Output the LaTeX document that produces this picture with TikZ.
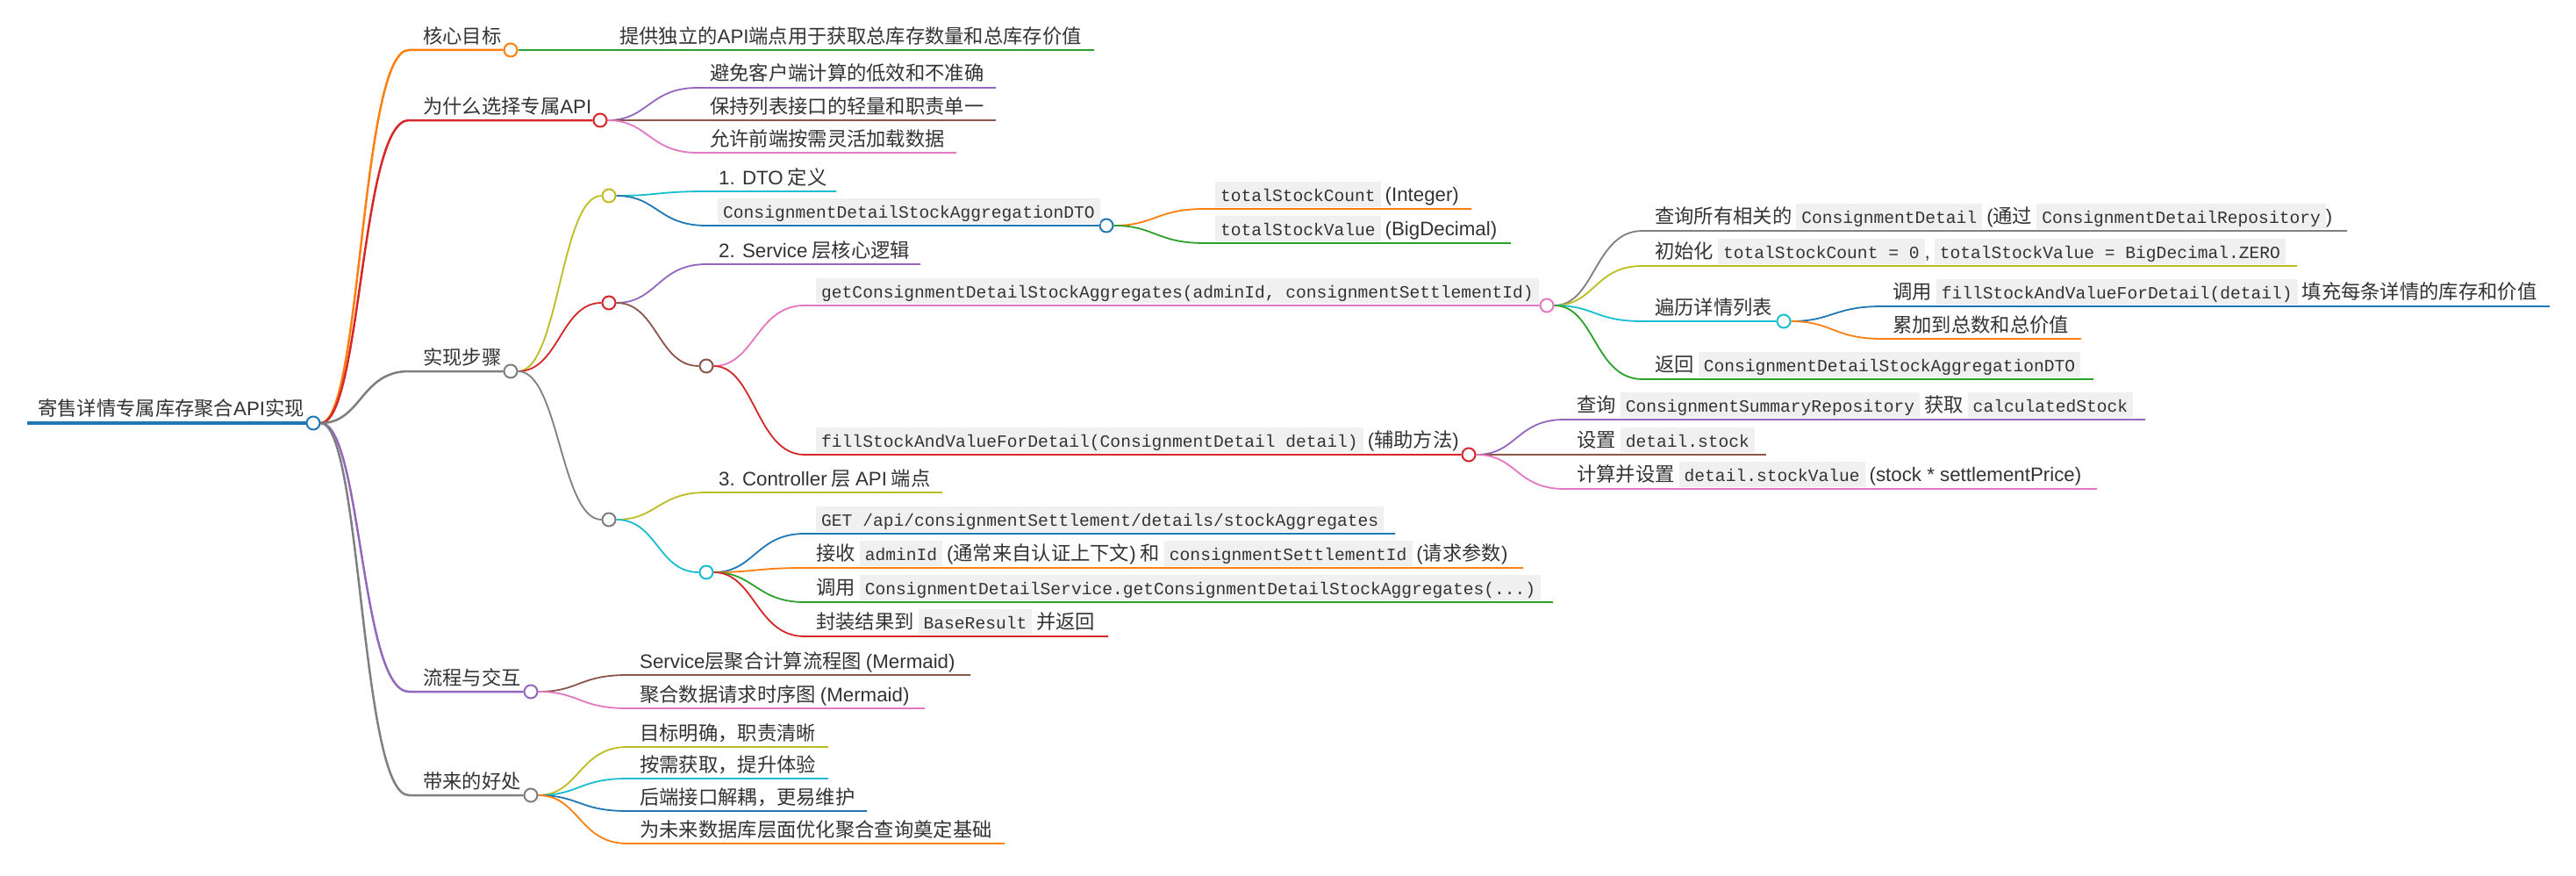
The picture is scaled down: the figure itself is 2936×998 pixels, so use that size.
\documentclass[tikz,border=0pt]{standalone}
\usepackage{fontspec}
\setmainfont{Noto Sans CJK SC}
\newfontfamily\enfont{Liberation Sans}
\newfontfamily\monofont{Liberation Mono}
\definecolor{cBlue}{HTML}{1F77B4}
\definecolor{cOrange}{HTML}{FF7F0E}
\definecolor{cGreen}{HTML}{2CA02C}
\definecolor{cRed}{HTML}{D62728}
\definecolor{cPurple}{HTML}{9467BD}
\definecolor{cBrown}{HTML}{8C564B}
\definecolor{cPink}{HTML}{E377C2}
\definecolor{cGray}{HTML}{7F7F7F}
\definecolor{cOlive}{HTML}{BCBD22}
\definecolor{cCyan}{HTML}{17BECF}
\definecolor{codebg}{HTML}{F0F0F0}
\definecolor{txt}{HTML}{333333}
\newcommand\en[1]{{\enfont #1}}
\newcommand\code[1]{{\setlength{\fboxsep}{0pt}\colorbox{codebg}{\rule[-7pt]{0pt}{29pt}\hspace{6pt}{\monofont\fontsize{19.6}{22}\selectfont #1}\hspace{6pt}}}}
\pgfdeclarelayer{bg}
\pgfsetlayers{bg,main}
\tikzset{
  lbl/.style={anchor=base west, inner sep=0pt, text=txt, font=\fontsize{22.3}{26}\selectfont},
  bub/.style={circle, draw=#1, fill=white, line width=2pt, minimum size=15pt, inner sep=0pt},
  w0/.style={line width=3.5pt},
  w1/.style={line width=2.5pt},
  w2/.style={line width=1.8pt},
  link/.style={to path={.. controls +(55,0) and +(-55,0) .. (\tikztotarget)}}
}
\begin{document}
\begin{tikzpicture}[x=1pt,y=-1pt]
\useasboundingbox (0,0) rectangle (2936,998);

% root
\coordinate (sR) at (31,482);
\node[bub=cBlue] (cR) at (357,482) {};
\node[lbl] (tR) at (43,473) {寄售详情专属库存聚合\en{API}实现};

% level 1
\coordinate (sA) at (466,57);  \node[bub=cOrange] (cA) at (582,57) {};
\node[lbl] (tA) at (482,49) {核心目标};
\coordinate (sB) at (466,137); \node[bub=cRed] (cB) at (684,137) {};
\node[lbl] (tB) at (482,129) {为什么选择专属\en{API}};
\coordinate (sC) at (466,423); \node[bub=cGray] (cC) at (582,423) {};
\node[lbl] (tC) at (482,415) {实现步骤};
\coordinate (sD) at (466,788); \node[bub=cPurple] (cD) at (605,788) {};
\node[lbl] (tD) at (482,780) {流程与交互};
\coordinate (sE) at (466,906); \node[bub=cGray] (cE) at (605,906) {};
\node[lbl] (tE) at (482,898) {带来的好处};

% A children
\coordinate (sA1) at (694,57); \coordinate (eA1) at (1247,57);
\node[lbl] (tA1) at (706,49) {提供独立的\en{API}端点用于获取总库存数量和总库存价值};

% B children
\coordinate (sB1) at (795,100); \coordinate (eB1) at (1135,100);
\node[lbl] (tB1) at (809,92) {避免客户端计算的低效和不准确};
\coordinate (sB2) at (795,137); \coordinate (eB2) at (1135,137);
\node[lbl] (tB2) at (809,129) {保持列表接口的轻量和职责单一};
\coordinate (sB3) at (795,174); \coordinate (eB3) at (1090,174);
\node[lbl] (tB3) at (809,166) {允许前端按需灵活加载数据};

% C children
\node[bub=cOlive] (cC1) at (694,223) {};
\coordinate (sC11) at (805,218); \coordinate (eC11) at (953,218);
\node[lbl] (tC11) at (819,210) {\en{1. DTO} 定义};
\coordinate (sC12) at (805,257); \node[bub=cBlue] (cC12) at (1261,257) {};
\node[lbl] (tC12) at (818,248) {\code{ConsignmentDetailStockAggregationDTO}};
\coordinate (sC121) at (1373,238); \coordinate (eC121) at (1677,238);
\node[lbl] (tC121) at (1385,229) {\code{totalStockCount} \en{(Integer)}};
\coordinate (sC122) at (1373,277); \coordinate (eC122) at (1722,277);
\node[lbl] (tC122) at (1385,268) {\code{totalStockValue} \en{(BigDecimal)}};

\node[bub=cRed] (cC2) at (694,345) {};
\coordinate (sC21) at (805,301); \coordinate (eC21) at (1049,301);
\node[lbl] (tC21) at (819,293) {\en{2. Service} 层核心逻辑};
\node[bub=cBrown] (cC22) at (805,417) {};
\coordinate (sC221) at (917,348); \node[bub=cPink] (cC221) at (1763,348) {};
\node[lbl] (tC221) at (930,339) {\code{getConsignmentDetailStockAggregates(adminId, consignmentSettlementId)}};
\coordinate (sC2211) at (1872,263); \coordinate (eC2211) at (2675,263);
\node[lbl] (tC2211) at (1886,254) {查询所有相关的 \code{ConsignmentDetail} \en{(}通过 \code{ConsignmentDetailRepository}\en{)}};
\coordinate (sC2212) at (1872,303); \coordinate (eC2212) at (2618,303);
\node[lbl] (tC2212) at (1886,294) {初始化 \code{totalStockCount = 0}\en{,} \code{totalStockValue = BigDecimal.ZERO}};
\coordinate (sC2213) at (1872,366); \node[bub=cCyan] (cC2213) at (2033,366) {};
\node[lbl] (tC2213) at (1886,358) {遍历详情列表};
\coordinate (sC22131) at (2145,349); \coordinate (eC22131) at (2906,349);
\node[lbl] (tC22131) at (2157,340) {调用 \code{fillStockAndValueForDetail(detail)} 填充每条详情的库存和价值};
\coordinate (sC22132) at (2145,386); \coordinate (eC22132) at (2372,386);
\node[lbl] (tC22132) at (2157,378) {累加到总数和总价值};
\coordinate (sC2214) at (1872,432); \coordinate (eC2214) at (2386,432);
\node[lbl] (tC2214) at (1886,423) {返回 \code{ConsignmentDetailStockAggregationDTO}};

\coordinate (sC222) at (917,518); \node[bub=cRed] (cC222) at (1674,518) {};
\node[lbl] (tC222) at (930,509) {\code{fillStockAndValueForDetail(ConsignmentDetail detail)} \en{(}辅助方法\en{)}};
\coordinate (sC2221) at (1783,478); \coordinate (eC2221) at (2445,478);
\node[lbl] (tC2221) at (1797,469) {查询 \code{ConsignmentSummaryRepository} 获取 \code{calculatedStock}};
\coordinate (sC2222) at (1783,518); \coordinate (eC2222) at (2013,518);
\node[lbl] (tC2222) at (1797,509) {设置 \code{detail.stock}};
\coordinate (sC2223) at (1783,557); \coordinate (eC2223) at (2390,557);
\node[lbl] (tC2223) at (1797,548) {计算并设置 \code{detail.stockValue} \en{(stock * settlementPrice)}};

\node[bub=cGray] (cC3) at (694,592) {};
\coordinate (sC31) at (805,561); \coordinate (eC31) at (1074,561);
\node[lbl] (tC31) at (819,553) {\en{3. Controller} 层 \en{API} 端点};
\node[bub=cCyan] (cC32) at (805,652) {};
\coordinate (sC321) at (917,608); \coordinate (eC321) at (1590,608);
\node[lbl] (tC321) at (930,599) {\code{GET /api/consignmentSettlement/details/stockAggregates}};
\coordinate (sC322) at (917,647); \coordinate (eC322) at (1736,647);
\node[lbl] (tC322) at (930,638) {接收 \code{adminId} \en{(}通常来自认证上下文\en{)} 和 \code{consignmentSettlementId} \en{(}请求参数\en{)}};
\coordinate (sC323) at (917,686); \coordinate (eC323) at (1770,686);
\node[lbl] (tC323) at (930,677) {调用 \code{ConsignmentDetailService.getConsignmentDetailStockAggregates(...)}};
\coordinate (sC324) at (917,725); \coordinate (eC324) at (1263,725);
\node[lbl] (tC324) at (930,716) {封装结果到 \code{BaseResult} 并返回};

% D children
\coordinate (sD1) at (715,769); \coordinate (eD1) at (1106,769);
\node[lbl] (tD1) at (729,761) {\en{Service}层聚合计算流程图 \en{(Mermaid)}};
\coordinate (sD2) at (715,807); \coordinate (eD2) at (1054,807);
\node[lbl] (tD2) at (729,799) {聚合数据请求时序图 \en{(Mermaid)}};

% E children
\coordinate (sE1) at (715,851); \coordinate (eE1) at (944,851);
\node[lbl] (tE1) at (729,843) {目标明确，职责清晰};
\coordinate (sE2) at (715,887); \coordinate (eE2) at (944,887);
\node[lbl] (tE2) at (729,879) {按需获取，提升体验};
\coordinate (sE3) at (715,924); \coordinate (eE3) at (988,924);
\node[lbl] (tE3) at (729,916) {后端接口解耦，更易维护};
\coordinate (sE4) at (715,961); \coordinate (eE4) at (1145,961);
\node[lbl] (tE4) at (729,953) {为未来数据库层面优化聚合查询奠定基础};

\begin{pgfonlayer}{bg}
\fill[white] (0,0) rectangle (2936,998);
% root
\draw[w0,cBlue] (sR) -- (cR);
% level 1
\draw[w1,cOrange] (cR) to[link] (sA) -- (cA);
\draw[w1,cRed] (cR) to[link] (sB) -- (cB);
\draw[w1,cGray] (cR) to[link] (sC) -- (cC);
\draw[w1,cPurple] (cR) to[link] (sD) -- (cD);
\draw[w1,cGray] (cR) to[link] (sE) -- (cE);
% A
\draw[w2,cGreen] (cA) to[link] (sA1) -- (eA1);
% B
\draw[w2,cPurple] (cB) to[link] (sB1) -- (eB1);
\draw[w2,cBrown] (cB) to[link] (sB2) -- (eB2);
\draw[w2,cPink] (cB) to[link] (sB3) -- (eB3);
% C
\draw[w2,cOlive] (cC) to[link] (cC1);
\draw[w2,cCyan] (cC1) to[link] (sC11) -- (eC11);
\draw[w2,cBlue] (cC1) to[link] (sC12) -- (cC12);
\draw[w2,cOrange] (cC12) to[link] (sC121) -- (eC121);
\draw[w2,cGreen] (cC12) to[link] (sC122) -- (eC122);
\draw[w2,cRed] (cC) to[link] (cC2);
\draw[w2,cPurple] (cC2) to[link] (sC21) -- (eC21);
\draw[w2,cBrown] (cC2) to[link] (cC22);
\draw[w2,cPink] (cC22) to[link] (sC221) -- (cC221);
\draw[w2,cGray] (cC221) to[link] (sC2211) -- (eC2211);
\draw[w2,cOlive] (cC221) to[link] (sC2212) -- (eC2212);
\draw[w2,cCyan] (cC221) to[link] (sC2213) -- (cC2213);
\draw[w2,cBlue] (cC2213) to[link] (sC22131) -- (eC22131);
\draw[w2,cOrange] (cC2213) to[link] (sC22132) -- (eC22132);
\draw[w2,cGreen] (cC221) to[link] (sC2214) -- (eC2214);
\draw[w2,cRed] (cC22) to[link] (sC222) -- (cC222);
\draw[w2,cPurple] (cC222) to[link] (sC2221) -- (eC2221);
\draw[w2,cBrown] (cC222) to[link] (sC2222) -- (eC2222);
\draw[w2,cPink] (cC222) to[link] (sC2223) -- (eC2223);
\draw[w2,cGray] (cC) to[link] (cC3);
\draw[w2,cOlive] (cC3) to[link] (sC31) -- (eC31);
\draw[w2,cCyan] (cC3) to[link] (cC32);
\draw[w2,cBlue] (cC32) to[link] (sC321) -- (eC321);
\draw[w2,cOrange] (cC32) to[link] (sC322) -- (eC322);
\draw[w2,cGreen] (cC32) to[link] (sC323) -- (eC323);
\draw[w2,cRed] (cC32) to[link] (sC324) -- (eC324);
% D
\draw[w2,cBrown] (cD) to[link] (sD1) -- (eD1);
\draw[w2,cPink] (cD) to[link] (sD2) -- (eD2);
% E
\draw[w2,cOlive] (cE) to[link] (sE1) -- (eE1);
\draw[w2,cCyan] (cE) to[link] (sE2) -- (eE2);
\draw[w2,cBlue] (cE) to[link] (sE3) -- (eE3);
\draw[w2,cOrange] (cE) to[link] (sE4) -- (eE4);
\end{pgfonlayer}
\end{tikzpicture}
\end{document}
